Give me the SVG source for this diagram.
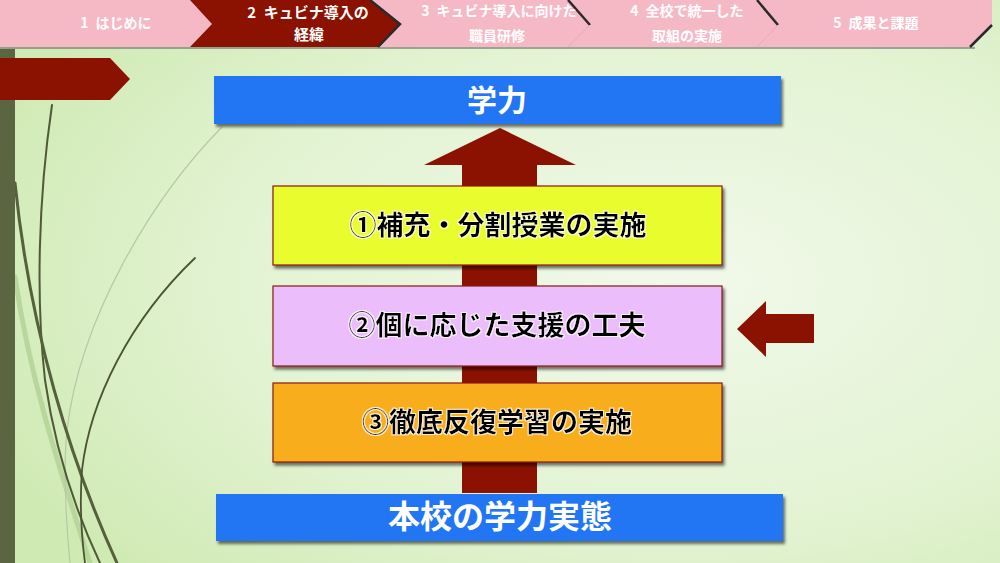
<svg xmlns="http://www.w3.org/2000/svg" width="1000" height="563" viewBox="0 0 1000 563">
<style>
.jp{font-family:"Noto Sans CJK JP","Noto Sans CJK SC",sans-serif;font-weight:bold}
.ban{fill:#ffffff;font-size:14px;text-anchor:middle}
.ban2{fill:#ffffff;font-size:15px;text-anchor:middle}
.big{font-size:27px;text-anchor:middle;fill:#000}
.wt{fill:#fff;text-anchor:middle}
.box{stroke:#8b1a10;stroke-width:1.2}
.red{fill:#8b1200}
.pink{fill:#f5b9c6}
.sep{fill:none;stroke:#2a2a2a;stroke-width:2.5}
</style>
<defs>
<radialGradient id="bg" cx="0.68" cy="0.5" r="0.75">
<stop offset="0" stop-color="#f1f9ea"/>
<stop offset="0.6" stop-color="#e2f3d2"/>
<stop offset="1" stop-color="#d0eab4"/>
</radialGradient>
<filter id="sh" x="-5%" y="-20%" width="110%" height="150%">
<feDropShadow dx="2" dy="3" stdDeviation="1.5" flood-color="#000" flood-opacity="0.55"/>
</filter>
<filter id="glow" x="-5%" y="-20%" width="110%" height="140%">
<feMorphology in="SourceAlpha" operator="dilate" radius="1" result="d"/>
<feFlood flood-color="#ffffff" flood-opacity="0.8"/>
<feComposite in2="d" operator="in" result="w"/>
<feMerge><feMergeNode in="w"/><feMergeNode in="SourceGraphic"/></feMerge>
</filter>
</defs>
<rect width="1000" height="563" fill="url(#bg)"/>

<!-- decorative grass curves -->
<g fill="none" stroke-linecap="round">
<path d="M15,277 C30,380 60,470 90,563" stroke="#b9d69c" stroke-width="5"/>
<path d="M222,127 C150,200 80,320 67,430 C63,470 66,520 70,563" stroke="#b8c8a6" stroke-width="1.2"/>
<path d="M52,105 C38,200 36,300 45,380 C55,450 75,510 100,563" stroke="#4f5a38" stroke-width="2"/>
<path d="M15,183 C30,330 70,460 117,563" stroke="#56603c" stroke-width="3"/>
<path d="M195,258 C130,320 90,400 82,470 C79,510 82,540 85,563" stroke="#4a5434" stroke-width="1.8"/>
</g>

<!-- left bar and red tab -->
<rect x="0" y="49" width="15" height="514" fill="#5b6541"/>
<polygon points="0,58 110,58 130,79 110,100 0,100" class="red"/>

<!-- banner -->
<g id="banner">
<rect x="0" y="47" width="975" height="2" fill="#555" opacity="0.5"/>
<polygon points="0,0 992,0 992,25 970,47 0,47" class="pink"/>
<polygon points="190,0 370,0 400,24 378,47 190,47 212,24" class="red"/>
<polyline points="370,0 400,24 378,47" class="sep" stroke-width="2"/>
<polyline points="568,0 590,25" class="sep"/>
<polyline points="590,25 568,47" fill="none" stroke="#e9a8b6" stroke-width="1"/>
<polyline points="757,0 778,25" class="sep"/>
<polyline points="778,25 757,47" fill="none" stroke="#e9a8b6" stroke-width="1"/>
<polyline points="970,47 992,25" class="sep" stroke-width="2"/>
<text class="jp ban" x="116" y="28">1&#8194;はじめに</text>
<text class="jp ban2" x="308" y="17.5">2&#8194;キュビナ導入の</text>
<text class="jp ban2" x="309" y="39.5">経緯</text>
<text class="jp ban" x="499" y="16">3&#8194;キュビナ導入に向けた</text>
<text class="jp ban" x="497" y="41">職員研修</text>
<text class="jp ban" x="687" y="16">4&#8194;全校で統一した</text>
<text class="jp ban" x="687" y="41">取組の実施</text>
<text class="jp ban" x="876" y="28">5&#8194;成果と課題</text>
</g>

<!-- connectors -->
<g id="connectors">
<polygon id="upArrow" points="462,493 462,165 424,165 500,128 576,165 537,165 537,493" class="red"/>
<polygon id="leftArrow" points="737,329 766,301 766,314 814,314 814,343 766,343 766,357" class="red"/>
</g>

<g id="node-gakuryoku">
<rect x="214" y="76" width="567" height="48" fill="#2176f4" filter="url(#sh)"/>
<text class="jp wt" x="497" y="111" font-size="30px">学力</text>
</g>

<g id="node-1">
<rect x="273" y="186" width="449" height="79" fill="#e9fd2e" class="box" filter="url(#sh)"/>
<text class="jp big" x="498" y="235" filter="url(#glow)">①補充・分割授業の実施</text>
</g>

<g id="node-2">
<rect x="273" y="286" width="449" height="80" fill="#ebbdfa" class="box" filter="url(#sh)"/>
<text class="jp big" x="497" y="335" filter="url(#glow)">②個に応じた支援の工夫</text>
</g>

<g id="node-3">
<rect x="273" y="383" width="449" height="79" fill="#f7ad1d" class="box" filter="url(#sh)"/>
<text class="jp big" x="497" y="432" filter="url(#glow)">③徹底反復学習の実施</text>
</g>

<g id="node-base">
<rect x="216" y="494" width="567" height="47" fill="#2176f4" filter="url(#sh)"/>
<text class="jp wt" x="500" y="528" font-size="32px">本校の学力実態</text>
</g>
</svg>
